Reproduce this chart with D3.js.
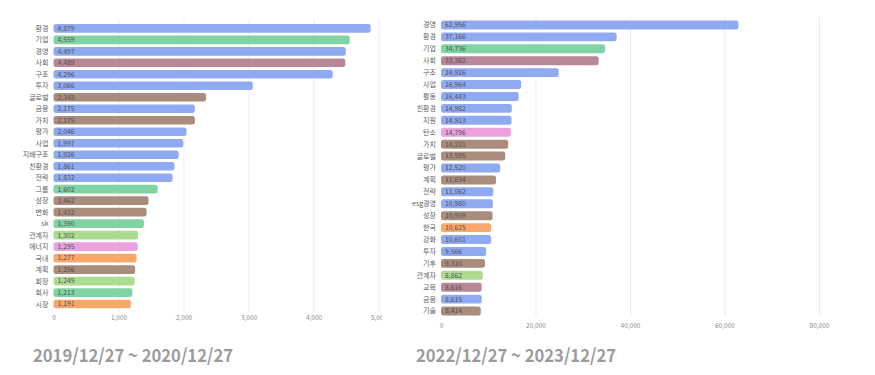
<!DOCTYPE html>
<html>
<head>
<meta charset="utf-8">
<script src="https://cdn.jsdelivr.net/npm/d3@7"></script>
<style>
  body { margin: 0; background: #fff; }
  text { font-family: "Noto Sans CJK KR", "Noto Sans", sans-serif; }
</style>
</head>
<body>
<div id="chart"></div>
<script>
// 2019/12/27 ~ 2020/12/27
const leftWords = ['환경', '기업', '경영', '사회', '구조', '투자', '글로벌', '금융', '가치', '평가', '사업', '지배구조', '친환경', '전략', '그룹', '성장', '변화', 'sk', '관계자', '에너지', '국내', '계획', '회장', '회사', '시장'];
const leftCounts = [4879, 4559, 4497, 4489, 4296, 3066, 2348, 2175, 2175, 2046, 1997, 1926, 1861, 1832, 1602, 1462, 1432, 1390, 1302, 1295, 1277, 1256, 1249, 1213, 1191];
const leftGroups = ['blue', 'green', 'blue', 'mauve', 'blue', 'blue', 'brown', 'blue', 'brown', 'blue', 'blue', 'blue', 'blue', 'blue', 'green', 'brown', 'brown', 'green', 'lime', 'pink', 'orange', 'brown', 'lime', 'green', 'orange'];
const leftTicks = [0, 1000, 2000, 3000, 4000, 5000];

// 2022/12/27 ~ 2023/12/27
const rightWords = ['경영', '환경', '기업', '사회', '구조', '사업', '활동', '친환경', '지원', '탄소', '가치', '글로벌', '평가', '계획', '전략', 'esg경영', '성장', '한국', '강화', '투자', '기후', '관계자', '교육', '금융', '기술'];
const rightCounts = [62956, 37166, 34736, 33362, 24926, 16964, 16443, 14982, 14913, 14796, 14221, 13595, 12520, 11634, 11062, 10980, 10909, 10625, 10601, 9566, 9310, 8862, 8616, 8615, 8414];
const rightGroups = ['blue', 'blue', 'green', 'mauve', 'blue', 'blue', 'blue', 'blue', 'blue', 'pink', 'brown', 'brown', 'blue', 'brown', 'blue', 'blue', 'brown', 'orange', 'blue', 'blue', 'brown', 'lime', 'mauve', 'blue', 'brown'];
const rightTicks = [0, 20000, 40000, 60000, 80000];

const color = d3.scaleOrdinal()
  .domain(['blue', 'green', 'mauve', 'brown', 'orange', 'pink', 'lime'])
  .range(['#8faaf1', '#80d3a2', '#b9879a', '#a98c7b', '#f9a86b', '#eaa1dd', '#acdc8f']);

const svg = d3.select('#chart').append('svg')
  .attr('width', 875)
  .attr('height', 375);

svg.append('rect').attr('width', 875).attr('height', 375).attr('fill', '#fff');

function drawPanel(opt) {
  const data = opt.words.map((w, i) => ({ name: w, value: opt.counts[i], group: opt.groups[i] }));

  const clipId = 'clip-' + opt.id;
  svg.append('clipPath').attr('id', clipId)
    .append('rect')
    .attr('x', opt.clip[0]).attr('y', 0)
    .attr('width', opt.clip[1] - opt.clip[0]).attr('height', 340);

  const g = svg.append('g').attr('clip-path', `url(#${clipId})`);

  const x = d3.scaleLinear()
    .domain([0, opt.max])
    .range(opt.xRange);
  const y = d3.scaleBand()
    .domain(data.map(d => d.name))
    .range(opt.yRange)
    .paddingInner(0.25)
    .paddingOuter(0.125);

  // grid lines
  g.append('g')
    .selectAll('line')
    .data(opt.ticks.filter(t => t > 0))
    .enter().append('line')
    .attr('x1', d => x(d) + 0.5)
    .attr('x2', d => x(d) + 0.5)
    .attr('y1', opt.grid[0])
    .attr('y2', opt.grid[1])
    .attr('stroke', '#ebebeb')
    .attr('stroke-width', 1);

  // x axis
  const axis = g.append('g')
    .attr('transform', `translate(0,${opt.axisY})`)
    .call(d3.axisBottom(x).tickValues(opt.ticks).tickFormat(d3.format(',')).tickSize(0));
  axis.select('.domain').remove();
  axis.selectAll('text')
    .attr('fill', '#888')
    .attr('font-size', '6.5px')
    .attr('dy', '0.35em')
    .attr('y', 0);

  // bars
  g.selectAll('.bar')
    .data(data)
    .enter().append('rect')
    .attr('class', 'bar')
    .attr('x', x(0))
    .attr('y', d => y(d.name))
    .attr('width', d => x(d.value) - x(0))
    .attr('height', y.bandwidth())
    .attr('rx', 2.5)
    .attr('fill', d => color(d.group));

  // values inside bars
  g.selectAll('.val')
    .data(data)
    .enter().append('text')
    .attr('class', 'val')
    .attr('x', x(0) + 4)
    .attr('y', d => y(d.name) + y.bandwidth() / 2)
    .attr('dy', '0.35em')
    .attr('font-size', '6.8px')
    .attr('fill', '#4f4f4f')
    .text(d => d3.format(',')(d.value));

  // category labels
  g.selectAll('.lbl')
    .data(data)
    .enter().append('text')
    .attr('class', 'lbl')
    .attr('x', x(0) - 5)
    .attr('y', d => y(d.name) + y.bandwidth() / 2)
    .attr('dy', '0.35em')
    .attr('text-anchor', 'end')
    .attr('font-size', '7px')
    .attr('fill', '#5e5e5e')
    .text(d => d.name);

  // period title
  svg.append('text')
    .attr('x', opt.titleX)
    .attr('y', 362)
    .attr('font-size', '18px')
    .attr('font-weight', 'bold')
    .attr('fill', '#9b9b9b')
    .attr('font-family', '"Open Sans", "Noto Sans", sans-serif')
    .attr('textLength', 200)
    .attr('lengthAdjust', 'spacingAndGlyphs')
    .text(opt.title);
}

drawPanel({
  id: 'left',
  words: leftWords, counts: leftCounts, groups: leftGroups, ticks: leftTicks,
  max: 5000, xRange: [53.5, 378.5], yRange: [22.6, 309.8],
  grid: [19, 312], axisY: 318, clip: [0, 382],
  titleX: 33, title: '2019/12/27 ~ 2020/12/27'
});

drawPanel({
  id: 'right',
  words: rightWords, counts: rightCounts, groups: rightGroups, ticks: rightTicks,
  max: 80000, xRange: [441, 819], yRange: [19.0, 317.0],
  grid: [17, 316], axisY: 326, clip: [395, 875],
  titleX: 416, title: '2022/12/27 ~ 2023/12/27'
});
</script>
</body>
</html>
